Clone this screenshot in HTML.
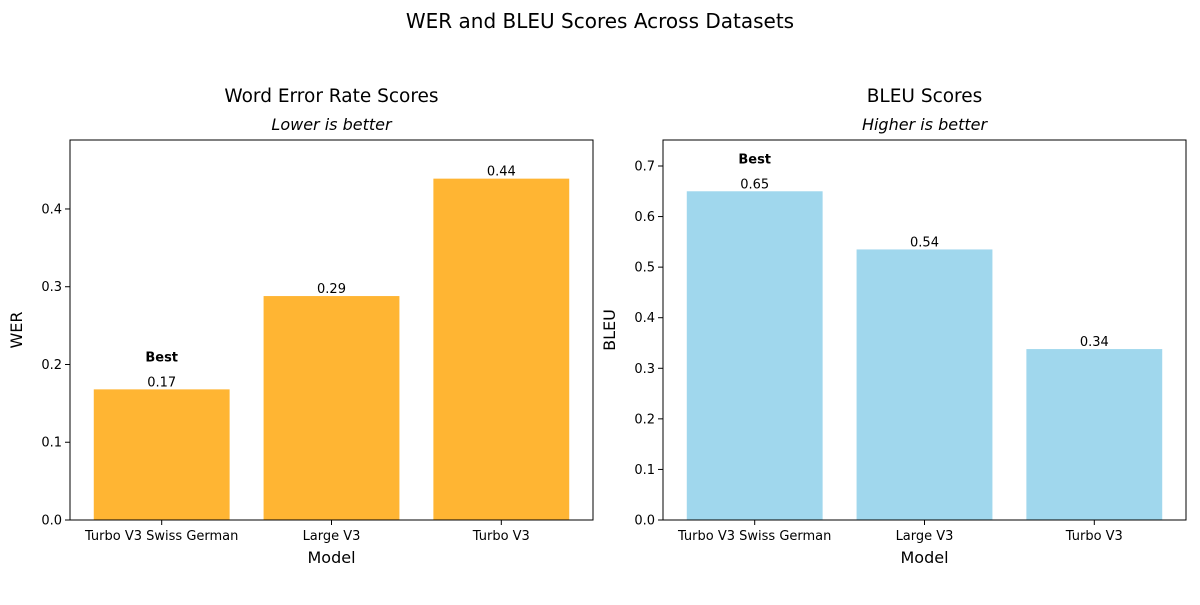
<!DOCTYPE html>
<html><head><meta charset="utf-8"><style>
body{margin:0;background:#fff;font-family:"Liberation Sans","DejaVu Sans",sans-serif}
</style></head><body>
<svg id="c" width="1200" height="600" xmlns="http://www.w3.org/2000/svg" font-family="DejaVu Sans, Liberation Sans, sans-serif">
<text x="600" y="28" text-anchor="middle" font-size="20">WER and BLEU Scores Across Datasets</text>
</svg>
<script>
const categories=["Turbo V3 Swiss German","Large V3","Turbo V3"];
const werValues=[0.168,0.288,0.439];
const bleuValues=[0.650,0.535,0.338];
const werTicks=["0.0","0.1","0.2","0.3","0.4"];
const bleuTicks=["0.0","0.1","0.2","0.3","0.4","0.5","0.6","0.7"];
const svg=document.getElementById('c');
const NS="http://www.w3.org/2000/svg";
function mk(t,a,txt){const e=document.createElementNS(NS,t);for(const k in a)e.setAttribute(k,a[k]);if(txt!==undefined)e.textContent=txt;svg.appendChild(e);return e;}
function panel(o){
  const {x0,x1,y0,y1,ymax,vals,ticks,color,title,sub,ylabel,best,key}=o;
  const xs=i=>x0+(i+0.54)/3.08*(x1-x0);
  const ys=v=>y1-v/ymax*(y1-y0);
  const bw=0.8/3.08*(x1-x0);
  let t=mk('text',{x:(x0+x1)/2,y:102,'text-anchor':'middle','font-size':18.5},title);
  
  t=mk('text',{x:(x0+x1)/2,y:130,'text-anchor':'middle','font-size':16,'font-style':'italic'},sub);
  
  vals.forEach((v,i)=>{
    const r=mk('rect',{x:xs(i)-bw/2,y:ys(v),width:bw,height:y1-ys(v),fill:color});
    
    const l=mk('text',{x:xs(i),y:ys(v)-3,'text-anchor':'middle','font-size':13},v.toFixed(2));
    
    const tk=mk('line',{x1:xs(i),x2:xs(i),y1:y1,y2:y1+5,stroke:'#000'});
    
    const tl=mk('text',{x:xs(i),y:y1+20,'text-anchor':'middle','font-size':13},categories[i]);
    
  });
  const b=mk('text',{x:xs(best),y:ys(vals[best])-28,'text-anchor':'middle','font-size':13,'font-weight':'bold'},'Best');
  
  ticks.forEach(s=>{const v=parseFloat(s);const y=ys(v);
    const tk=mk('line',{x1:x0-5,x2:x0,y1:y,y2:y,stroke:'#000'});
    
    const tl=mk('text',{x:x0-8,y:y+4.5,'text-anchor':'end','font-size':13},s);
    
  });
  const f=mk('rect',{x:x0,y:y0,width:x1-x0,height:y1-y0,fill:'none',stroke:'#000','stroke-width':1});
  
  t=mk('text',{x:(x0+x1)/2,y:563,'text-anchor':'middle','font-size':16},'Model');
  
  const cy=(y0+y1)/2;
  t=mk('text',{x:x0-48,y:cy,'text-anchor':'middle','font-size':16,transform:`rotate(-90 ${x0-48} ${cy})`},ylabel);
  
}
panel({x0:70,x1:593,y0:140,y1:520,ymax:0.4887,vals:werValues,ticks:werTicks,color:'#ffb533',title:'Word Error Rate Scores',sub:'Lower is better',ylabel:'WER',best:0,key:'wer'});
panel({x0:663,x1:1186,y0:140,y1:520,ymax:0.7514,vals:bleuValues,ticks:bleuTicks,color:'#a0d7ed',title:'BLEU Scores',sub:'Higher is better',ylabel:'BLEU',best:0,key:'bleu'});
</script>
</body></html>
